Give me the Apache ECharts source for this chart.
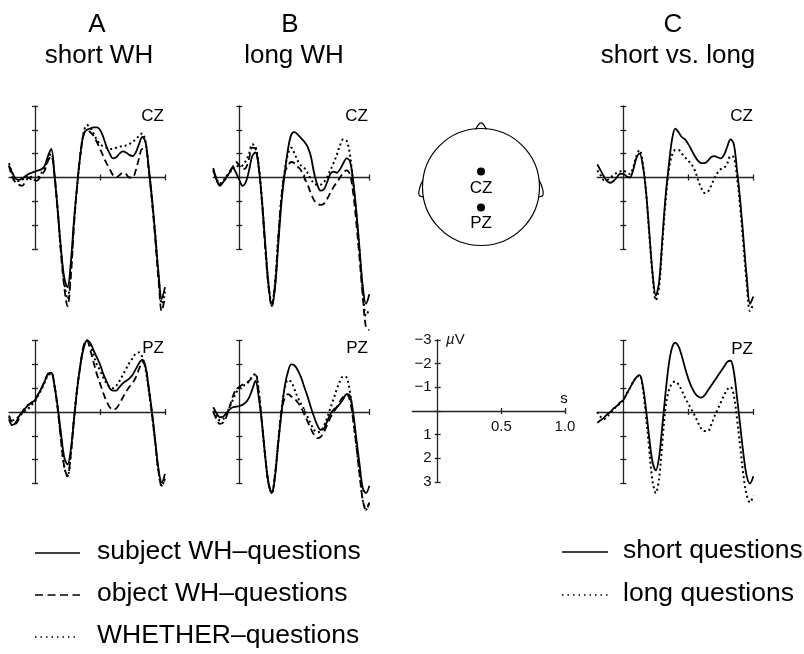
<!DOCTYPE html>
<html><head><meta charset="utf-8">
<script src="https://cdn.jsdelivr.net/npm/echarts@6/dist/echarts.min.js"></script>
<style>html,body{margin:0;padding:0;background:#fff}#c{width:804px;height:654px}</style>
</head><body><div id="c"></div>
<script>
const times = [-0.2,-0.175,-0.15,-0.125,-0.1,-0.075,-0.05,-0.025,0,0.025,0.05,0.075,0.1,0.125,0.15,0.175,0.2,0.225,0.25,0.275,0.3,0.325,0.35,0.375,0.4,0.425,0.45,0.475,0.5,0.525,0.55,0.575,0.6,0.625,0.65,0.675,0.7,0.725,0.75,0.775,0.8,0.825,0.85,0.875,0.9,0.925,0.95,0.975,1.0];

// Panel A (short WH) - CZ
const aCzSubject = [-0.5,-0.2,0.05,0.1,0.05,-0.05,-0.15,-0.2,-0.25,-0.3,-0.35,-0.5,-0.9,-1.2,-0.1,1.4,3.0,4.2,4.6,3.6,1.8,0.3,-1.0,-1.85,-2.0,-2.05,-2.1,-2.1,-2.0,-1.7,-1.3,-1.0,-0.8,-0.85,-1.0,-1.1,-1.05,-0.95,-0.9,-1.05,-1.4,-1.7,-1.5,-0.4,0.9,2.4,4.0,5.1,4.6];
const aCzObject  = [-0.5,0.0,0.2,0.3,0.35,0.2,0.0,0.1,0.15,0.1,-0.1,-0.3,-0.7,-0.9,-0.1,1.4,3.2,4.6,5.4,4.2,2.0,0.3,-1.0,-1.8,-2.0,-1.9,-1.75,-1.5,-1.2,-0.9,-0.6,-0.35,-0.1,0.0,-0.1,-0.2,-0.15,0.0,0.0,-0.3,-0.8,-1.2,-1.2,-0.3,1.0,2.6,4.3,5.6,5.0];
const aCzWhether = [-0.6,-0.2,0.1,0.15,0.1,0.0,-0.1,0.0,0.1,0.0,-0.2,-0.4,-0.8,-1.0,-0.1,1.4,3.1,4.4,5.1,4.0,1.9,0.3,-1.0,-1.9,-2.2,-2.1,-1.85,-1.6,-1.4,-1.3,-1.25,-1.2,-1.2,-1.25,-1.3,-1.3,-1.35,-1.4,-1.5,-1.6,-1.75,-1.85,-1.5,-0.4,0.9,2.4,4.1,5.3,4.8];
// Panel B (long WH) - CZ
const bCzSubject = [-0.4,0.1,0.35,0.2,0.0,-0.2,-0.4,-0.2,0.1,0.35,0.2,-0.3,-0.9,-1.05,-0.4,1.0,2.8,4.5,5.4,4.6,2.8,1.0,-0.2,-1.2,-1.8,-1.9,-1.8,-1.65,-1.5,-1.3,-0.9,-0.2,0.3,0.55,0.5,0.2,-0.15,-0.25,-0.2,-0.35,-0.6,-0.8,-0.7,0.1,1.4,3.0,4.6,5.3,4.9];
const bCzObject  = [-0.3,0.1,0.3,0.2,0.0,-0.25,-0.45,-0.65,-0.5,-0.35,-0.4,-0.8,-1.25,-1.2,-0.4,1.1,3.0,4.6,5.4,4.5,2.5,0.8,-0.2,-0.5,-0.65,-0.6,-0.45,-0.3,0.0,0.3,0.65,0.95,1.1,1.15,1.1,0.9,0.65,0.4,0.2,0.0,-0.2,-0.3,-0.15,0.6,1.9,3.4,5.0,6.3,6.4];
const bCzWhether = [-0.3,0.05,0.25,0.15,-0.05,-0.2,-0.35,-0.5,-0.45,-0.5,-0.7,-1.0,-1.4,-1.3,-0.5,1.0,2.9,4.5,5.3,4.4,2.5,0.8,-0.3,-1.0,-1.25,-1.0,-0.7,-0.5,-0.4,-0.2,0.05,0.25,0.3,0.3,0.2,0.0,-0.3,-0.6,-0.95,-1.35,-1.6,-1.55,-1.0,0.2,1.5,3.1,4.7,5.8,5.5];
// Panel C (short vs. long) - CZ
const cCzShort = [-0.55,-0.3,-0.05,0.15,0.22,0.15,0.0,-0.15,-0.15,-0.05,0.0,-0.3,-0.8,-1.0,-0.5,0.6,2.3,4.0,4.95,4.4,2.6,0.8,-0.5,-1.6,-2.05,-1.9,-1.7,-1.6,-1.4,-1.15,-0.9,-0.7,-0.6,-0.6,-0.7,-0.85,-0.9,-0.85,-0.8,-0.95,-1.3,-1.6,-1.4,-0.3,1.0,2.6,4.2,5.3,5.0];
const cCzLong  = [-0.3,-0.1,0.1,0.1,0.0,-0.1,-0.2,-0.25,-0.3,-0.2,-0.15,-0.4,-0.9,-1.15,-0.6,0.6,2.4,4.1,5.15,4.6,2.8,1.0,-0.3,-0.95,-1.15,-1.15,-1.0,-0.85,-0.7,-0.55,-0.3,0.1,0.45,0.65,0.6,0.35,0.05,-0.2,-0.35,-0.4,-0.6,-0.9,-0.85,0.0,1.3,2.9,4.5,5.6,5.3];
// Panel A - PZ
const aPzSubject = [0.3,0.55,0.45,0.2,0.0,-0.15,-0.3,-0.4,-0.5,-0.75,-1.0,-1.3,-1.6,-1.65,-1.1,-0.2,0.9,1.9,2.2,1.6,0.3,-1.0,-2.0,-2.7,-3.0,-2.9,-2.6,-2.3,-2.0,-1.6,-1.3,-1.0,-0.9,-0.9,-1.05,-1.2,-1.3,-1.4,-1.55,-1.8,-2.05,-2.2,-1.9,-1.0,0.0,1.2,2.4,2.95,2.6];
const aPzObject  = [0.15,0.45,0.5,0.3,0.05,-0.2,-0.3,-0.4,-0.5,-0.75,-1.0,-1.3,-1.6,-1.65,-1.1,-0.1,1.2,2.3,2.7,1.8,0.3,-1.0,-2.0,-2.8,-3.0,-2.6,-2.1,-1.6,-1.2,-0.8,-0.45,-0.2,-0.1,-0.15,-0.35,-0.6,-0.85,-1.05,-1.2,-1.45,-1.8,-2.1,-1.9,-1.0,0.1,1.3,2.5,3.1,2.8];
const aPzWhether = [0.2,0.35,0.3,0.2,0.05,-0.05,-0.15,-0.3,-0.45,-0.7,-0.95,-1.25,-1.55,-1.6,-1.1,-0.1,1.1,2.3,2.7,1.8,0.3,-1.0,-2.0,-2.75,-3.0,-2.8,-2.4,-2.0,-1.75,-1.45,-1.2,-1.05,-1.0,-1.1,-1.3,-1.55,-1.8,-2.05,-2.25,-2.45,-2.5,-2.3,-1.8,-0.9,0.1,1.3,2.5,3.1,2.8];
// Panel B - PZ
const bPzSubject = [-0.2,0.05,0.22,0.2,0.05,-0.1,-0.2,-0.22,-0.25,-0.3,-0.4,-0.6,-0.95,-1.3,-0.6,0.5,1.9,3.0,3.4,2.7,1.3,0.0,-1.1,-1.7,-2.0,-1.95,-1.75,-1.45,-1.05,-0.65,-0.2,0.2,0.55,0.75,0.7,0.4,0.1,-0.1,-0.2,-0.35,-0.55,-0.75,-0.7,0.0,1.1,2.2,3.2,3.4,3.1];
const bPzObject  = [0.0,0.3,0.5,0.45,0.2,-0.2,-0.65,-0.95,-1.05,-1.15,-1.2,-1.3,-1.45,-1.55,-0.8,0.5,1.9,3.0,3.4,2.6,1.2,0.0,-0.6,-0.75,-0.65,-0.55,-0.4,-0.2,0.1,0.4,0.7,0.95,1.1,1.05,0.85,0.55,0.25,0.0,-0.2,-0.45,-0.65,-0.75,-0.5,0.3,1.4,2.6,3.7,4.1,3.8];
const bPzWhether = [-0.05,0.2,0.35,0.3,0.1,-0.2,-0.5,-0.8,-1.0,-1.1,-1.15,-1.3,-1.5,-1.6,-0.85,0.5,1.9,3.0,3.4,2.6,1.2,-0.1,-1.0,-1.35,-1.25,-0.95,-0.6,-0.35,-0.1,0.2,0.5,0.75,0.85,0.8,0.6,0.25,-0.15,-0.55,-0.95,-1.3,-1.5,-1.45,-0.9,0.2,1.4,2.6,3.7,4.1,3.8];
// Panel C - PZ
const cPzShort = [0.45,0.35,0.25,0.1,0.0,-0.15,-0.25,-0.4,-0.5,-0.75,-1.0,-1.25,-1.45,-1.55,-1.1,-0.1,1.1,2.1,2.45,1.9,0.6,-0.8,-2.0,-2.7,-2.9,-2.75,-2.35,-1.85,-1.4,-1.05,-0.8,-0.65,-0.6,-0.7,-0.9,-1.1,-1.3,-1.5,-1.7,-1.9,-2.1,-2.15,-1.7,-0.6,0.6,1.8,2.7,3.0,2.7];
const cPzLong  = [0.0,0.2,0.3,0.2,0.05,-0.1,-0.25,-0.35,-0.5,-0.75,-1.0,-1.25,-1.45,-1.55,-1.0,0.2,1.6,2.9,3.4,2.8,1.3,-0.2,-0.9,-1.2,-1.28,-1.15,-0.9,-0.6,-0.35,-0.1,0.15,0.45,0.7,0.8,0.8,0.55,0.2,-0.1,-0.4,-0.7,-0.95,-1.05,-0.7,0.3,1.5,2.7,3.5,3.8,3.5];

const yTickLabels = [-3,-2,-1,0,1,2,3];
const xTickValues = [0.5, 1.0];
const leftLegendNames = ['subject WH\u2013questions','object WH\u2013questions','WHETHER\u2013questions'];
const rightLegendNames = ['short questions','long questions'];

const FONT = '"Liberation Sans", Arial, Helvetica, sans-serif';
const AX = '#222';
const chart = echarts.init(document.getElementById('c'), null, {renderer:'canvas'});

// data grids: A-CZ, B-CZ, C-CZ, A-PZ, B-PZ, C-PZ
const gridPos = [
  {left:9, top:106}, {left:213.3, top:106}, {left:597.3, top:106},
  {left:9, top:340.5}, {left:213.3, top:340.5}, {left:597.3, top:340.5}
];
const grids = gridPos.map(g=>({left:g.left, top:g.top, width:156, height:143, containLabel:false, outerBoundsMode:'none'}));
// scale panel: grid 6 carries the voltage axis (left edge = 0 s), grid 7 the time axis (bottom = 0 uV)
grids.push({left:437.7, top:340, width:127.3, height:142, containLabel:false, outerBoundsMode:'none'});
grids.push({left:412.2, top:340, width:152.8, height:71, containLabel:false, outerBoundsMode:'none'});

const xAxes = [], yAxes = [];
const tickLine = {color:AX, width:1.3};
gridPos.forEach((g,gi)=>{
  xAxes.push({type:'value', gridIndex:gi, min:-0.2, max:1.0, position:'bottom',
    axisLine:{show:true, onZero:true, onZeroAxisIndex:2*gi, lineStyle:tickLine},
    axisTick:{show:true, customValues:xTickValues, length:3, inside:false, lineStyle:tickLine},
    axisLabel:{show:false}, splitLine:{show:false}});
  xAxes.push({type:'value', gridIndex:gi, min:-0.2, max:1.0, position:'bottom',
    axisLine:{show:false, onZero:true, onZeroAxisIndex:2*gi+1},
    axisTick:{show:true, customValues:xTickValues, length:3, inside:true, lineStyle:tickLine},
    axisLabel:{show:false}, splitLine:{show:false}});
  yAxes.push({type:'value', gridIndex:gi, min:-3, max:3, interval:1, inverse:true, position:'left',
    axisLine:{show:true, onZero:true, onZeroAxisIndex:2*gi, lineStyle:tickLine},
    axisTick:{show:true, length:3, inside:false, lineStyle:tickLine},
    axisLabel:{show:false}, splitLine:{show:false}});
  yAxes.push({type:'value', gridIndex:gi, min:-3, max:3, interval:1, inverse:true, position:'left',
    axisLine:{show:false, onZero:true, onZeroAxisIndex:2*gi+1},
    axisTick:{show:true, length:3, inside:true, lineStyle:tickLine},
    axisLabel:{show:false}, splitLine:{show:false}});
});
// grid 6: xAxis 12 hidden, yAxis 12 (labels) + yAxis 13 (inner ticks)
xAxes.push({type:'value', gridIndex:6, min:0, max:1, show:false});
yAxes.push({type:'value', gridIndex:6, min:yTickLabels[0], max:yTickLabels[yTickLabels.length-1], interval:1, inverse:true, position:'left',
  axisLine:{show:true, onZero:false, lineStyle:tickLine},
  axisTick:{show:true, length:3, inside:false, lineStyle:tickLine},
  axisLabel:{show:true, margin:6, fontSize:15, color:'#111', fontFamily:FONT,
    formatter:v=> v===0 ? '' : (v<0 ? '\u2212'+(-v) : String(v))},
  splitLine:{show:false}});
yAxes.push({type:'value', gridIndex:6, min:-3, max:3, interval:1, inverse:true, position:'left',
  axisLine:{show:false, onZero:false},
  axisTick:{show:true, length:3, inside:true, lineStyle:tickLine},
  axisLabel:{show:false}, splitLine:{show:false}});
// grid 7: xAxis 13 (labels) + xAxis 14 (inner ticks), yAxis 14 hidden
xAxes.push({type:'value', gridIndex:7, min:-0.2, max:1.0, position:'bottom',
  axisLine:{show:true, onZero:false, lineStyle:tickLine},
  axisTick:{show:true, customValues:xTickValues, length:3, inside:false, lineStyle:tickLine},
  axisLabel:{show:true, customValues:xTickValues, formatter:v=>v.toFixed(1), margin:8, fontSize:15, color:'#111', fontFamily:FONT},
  splitLine:{show:false}});
xAxes.push({type:'value', gridIndex:7, min:-0.2, max:1.0, position:'bottom',
  axisLine:{show:false, onZero:false},
  axisTick:{show:true, customValues:xTickValues, length:3, inside:true, lineStyle:tickLine},
  axisLabel:{show:false}, splitLine:{show:false}});
yAxes.push({type:'value', gridIndex:7, min:-3, max:0, inverse:true, show:false});

const STY = {
  solid:{type:'solid', width:1.8},
  dashed:{type:[7,4], width:1.8},
  dotted:{type:[2,3], width:2}
};
function mk(name, vals, gi, sty){
  return {type:'line', name, xAxisIndex:2*gi, yAxisIndex:2*gi,
    data: times.map((t,i)=>[t, vals[i]]),
    symbol:'none', showSymbol:false, smooth:0.35, clip:false, silent:true,
    lineStyle:Object.assign({color:'#000', cap:'butt'}, STY[sty]), itemStyle:{color:'#000'}};
}
const series = [
  mk(leftLegendNames[0], aCzSubject, 0, 'solid'),
  mk(leftLegendNames[1], aCzObject, 0, 'dashed'),
  mk(leftLegendNames[2], aCzWhether, 0, 'dotted'),
  mk(leftLegendNames[0], bCzSubject, 1, 'solid'),
  mk(leftLegendNames[1], bCzObject, 1, 'dashed'),
  mk(leftLegendNames[2], bCzWhether, 1, 'dotted'),
  mk(rightLegendNames[0], cCzShort, 2, 'solid'),
  mk(rightLegendNames[1], cCzLong, 2, 'dotted'),
  mk(leftLegendNames[0], aPzSubject, 3, 'solid'),
  mk(leftLegendNames[1], aPzObject, 3, 'dashed'),
  mk(leftLegendNames[2], aPzWhether, 3, 'dotted'),
  mk(leftLegendNames[0], bPzSubject, 4, 'solid'),
  mk(leftLegendNames[1], bPzObject, 4, 'dashed'),
  mk(leftLegendNames[2], bPzWhether, 4, 'dotted'),
  mk(rightLegendNames[0], cPzShort, 5, 'solid'),
  mk(rightLegendNames[1], cPzLong, 5, 'dotted')
];

function txt(s, x, y, size, align){
  return {type:'text', x, y, silent:true, style:{text:s, fill:'#000', fontSize:size, fontFamily:FONT, align:align||'center', verticalAlign:'middle'}};
}
function lline(x1, x2, y, dash, w){
  return {type:'line', silent:true, shape:{x1, y1:y, x2, y2:y}, style:{stroke:'#000', lineWidth:w||1.6, lineDash:dash||null}};
}
const graphics = [
  txt('A', 97, 25, 26), txt('short WH', 99, 56, 26),
  txt('B', 290, 25, 26), txt('long WH', 294, 56, 26),
  txt('C', 673, 25, 26), txt('short vs. long', 678, 56, 26),
  txt('CZ', 164, 116, 17, 'right'), txt('CZ', 368, 116, 17, 'right'), txt('CZ', 753, 116, 17, 'right'),
  txt('PZ', 164, 348, 17, 'right'), txt('PZ', 368, 348, 17, 'right'), txt('PZ', 753, 349, 17, 'right'),
  // head
  {type:'circle', shape:{cx:481, cy:187, r:58.5}, style:{fill:'none', stroke:'#000', lineWidth:1.2}, silent:true},
  {type:'polyline', shape:{points:[[475.5,129.5],[479.5,123.5],[482.5,123.5],[486.5,129.5]], smooth:0.4}, style:{fill:'none', stroke:'#000', lineWidth:1.2}, silent:true},
  {type:'polyline', shape:{points:[[423,180],[420,187],[419,195],[424,197]], smooth:0.4}, style:{fill:'none', stroke:'#000', lineWidth:1.2}, silent:true},
  {type:'polyline', shape:{points:[[539,180],[542,187],[543,195],[538,197]], smooth:0.4}, style:{fill:'none', stroke:'#000', lineWidth:1.2}, silent:true},
  {type:'circle', shape:{cx:481, cy:171.5, r:4}, style:{fill:'#000'}, silent:true},
  {type:'circle', shape:{cx:481, cy:207.5, r:4}, style:{fill:'#000'}, silent:true},
  txt('CZ', 481, 188.5, 17), txt('PZ', 481, 223.5, 17),
  // scale panel units
  {type:'text', x:446, y:340, silent:true, style:{text:'{i|\u00b5}V', fill:'#111', fontSize:15, fontFamily:FONT, align:'left', verticalAlign:'middle', rich:{i:{fontStyle:'italic', fontSize:15, fontFamily:FONT, fill:'#111'}}}},
  txt('s', 564, 399, 15),
  // legends
  lline(35, 80, 553, null), txt(leftLegendNames[0], 97, 552, 26.5, 'left'),
  lline(35, 80, 595, [8,4.5]), txt(leftLegendNames[1], 97, 594, 26.5, 'left'),
  lline(35, 79, 637, [1.5,4], 1.4), txt(leftLegendNames[2], 97, 636, 26.5, 'left'),
  lline(562, 608, 552, null), txt(rightLegendNames[0], 623, 551, 26.5, 'left'),
  lline(562, 608, 595, [1.5,4], 1.4), txt(rightLegendNames[1], 623, 594, 26.5, 'left')
];

chart.setOption({
  animation:false,
  backgroundColor:'#fff',
  grid:grids, xAxis:xAxes, yAxis:yAxes, series,
  graphic:graphics
});
</script></body></html>
